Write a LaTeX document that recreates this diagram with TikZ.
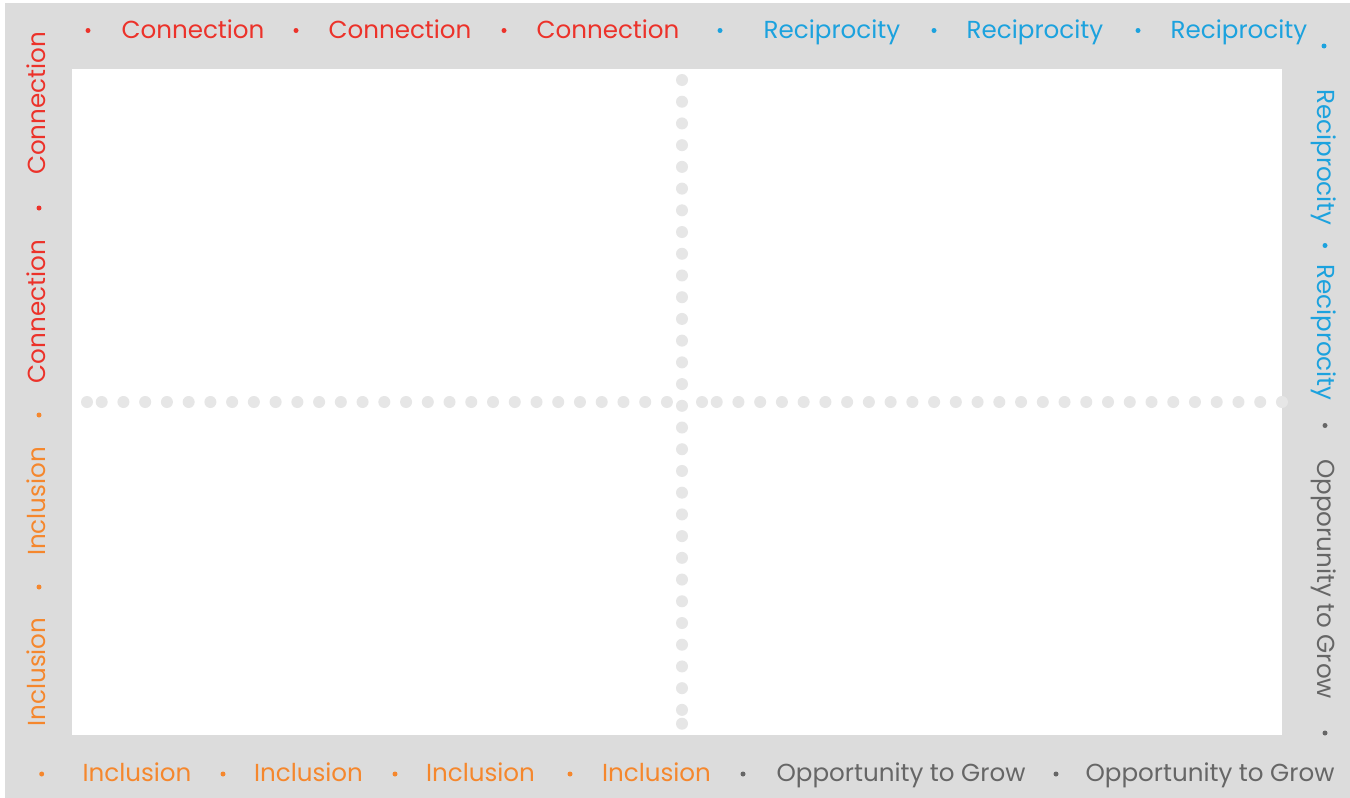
\documentclass[tikz,border=0pt]{standalone}
\usepackage{fontspec}
\usepackage{tikz}
\newfontfamily\popfont{Poppins}
\definecolor{framegray}{RGB}{220, 220, 220}
\definecolor{dotgray}{RGB}{230, 230, 230}
\definecolor{cnred}{RGB}{236, 50, 42}
\definecolor{rcblue}{RGB}{28, 162, 222}
\definecolor{icorange}{RGB}{245, 135, 45}
\definecolor{grgray}{RGB}{102, 102, 102}
\begin{document}
\begin{tikzpicture}[
  x=0.5pt, y=-0.5pt,
  lbl/.style={font=\popfont\fontsize{12.3}{14}\selectfont, inner sep=0pt, anchor=base},
  bul/.style={fill=#1},
  dotmark/.style={fill=dotgray}
]
\useasboundingbox (0,0) rectangle (1350,798);
\fill[white] (0,0) rectangle (1350,798);
\fill[framegray] (5,3) rectangle (1350,798);
\fill[white] (72,69) rectangle (1282,735);
% dotted cross
\fill[dotmark] (87,402) circle (6);
\foreach \i in {0,...,26} {\fill[dotmark] (101.7+21.74*\i,402) circle (6);}
\fill[dotmark] (702,402) circle (6);
\foreach \i in {0,...,26} {\fill[dotmark] (716.7+21.74*\i,402) circle (6);}
\foreach \i in {0,...,29} {\fill[dotmark] (682,80+21.72*\i) circle (6);}
\fill[dotmark] (682,723.7) circle (6);
% top row
\node[lbl, text=cnred] (topconA) at (193,38) {Connection};
\node[lbl, text=cnred] (topconB) at (400,38) {Connection};
\node[lbl, text=cnred] (topconC) at (608,38) {Connection};
\node[lbl, text=rcblue] (toprecA) at (832,38) {Reciprocity};
\node[lbl, text=rcblue] (toprecB) at (1035,38) {Reciprocity};
\node[lbl, text=rcblue] (toprecC) at (1239,38) {Reciprocity};
\foreach \x in {88, 296, 504} {\fill[bul=cnred] (\x,30.5) circle (2.5);}
\foreach \x in {720, 934, 1138} {\fill[bul=rcblue] (\x,30.5) circle (2.5);}
\fill[bul=rcblue] (1324,46) circle (2.5);
% right column
\node[lbl, rotate=-90, text=rcblue] (rightrecA) at (1317,157.5) {Reciprocity};
\node[lbl, rotate=-90, text=rcblue] (rightrecB) at (1317,332.5) {Reciprocity};
\node[lbl, rotate=-90, text=grgray] (rightgrow) at (1317,579) {Opporunity to Grow};
\fill[bul=rcblue] (1325,245.5) circle (2.5);
\fill[bul=grgray] (1325,425.5) circle (2.5);
\fill[bul=grgray] (1325,733) circle (2.5);
% bottom row
\node[lbl, text=icorange] (botincA) at (137,781) {Inclusion};
\node[lbl, text=icorange] (botincB) at (308.5,781) {Inclusion};
\node[lbl, text=icorange] (botincC) at (480.5,781) {Inclusion};
\node[lbl, text=icorange] (botincD) at (656.5,781) {Inclusion};
\node[lbl, text=grgray] (botgrowA) at (901,781) {Opportunity to Grow};
\node[lbl, text=grgray] (botgrowB) at (1210,781) {Opportunity to Grow};
\foreach \x in {41.7, 223, 395, 570} {\fill[bul=icorange] (\x,774) circle (2.5);}
\foreach \x in {743, 1056} {\fill[bul=grgray] (\x,774) circle (2.5);}
% left column
\node[lbl, rotate=90, text=cnred] (leftconA) at (45,103.5) {Connection};
\node[lbl, rotate=90, text=cnred] (leftconB) at (45,311.7) {Connection};
\node[lbl, rotate=90, text=icorange] (leftincA) at (45,501.5) {Inclusion};
\node[lbl, rotate=90, text=icorange] (leftincB) at (45,672) {Inclusion};
\fill[bul=cnred] (39,208) circle (2.5);
\fill[bul=icorange] (39,415) circle (2.5);
\fill[bul=icorange] (39,587) circle (2.5);
\end{tikzpicture}
\end{document}
